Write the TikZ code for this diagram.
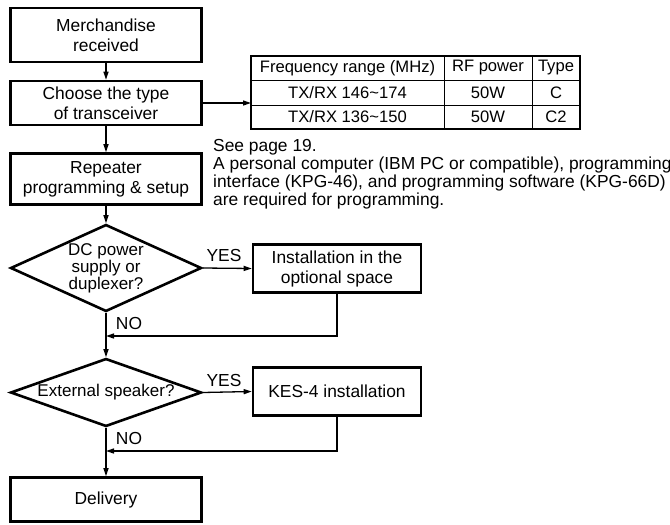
\documentclass[tikz,border=0pt]{standalone}
\usepackage{fontspec}
\setmainfont{Liberation Sans}
\usetikzlibrary{shapes.geometric,arrows.meta}
\tikzset{
  txt/.style={font=\fontsize{17.4}{20}\selectfont, inner sep=0pt, align=center},
  celltxt/.style={font=\fontsize{16.6}{20}\selectfont, inner sep=0pt, align=center},
  stepbox/.style={txt, draw, line width=2.6pt, rectangle, minimum width=191pt},
  decision/.style={draw, line width=2.6pt, shape=diamond, inner sep=0pt, minimum width=191pt},
  conn/.style={line width=1.3pt},
  arr/.style={conn, -{Triangle[length=8pt,width=5pt]}},
  thinrule/.style={line width=0.9pt},
}
\begin{document}
\begin{tikzpicture}[x=1pt,y=-1pt]
\useasboundingbox (0,0) rectangle (670,525);
% main column
\node[stepbox, minimum height=54pt] (b1) at (106,35) {Merchandise\\received};
\node[stepbox, minimum height=44pt] (b2) at (106,103) {Choose the type\\of transceiver};
\node[stepbox, minimum height=51pt] (b3) at (106,179) {Repeater\\programming \& setup};
\node[decision, minimum height=87pt] (d1) at (106,268) {};
\node[txt, font=\fontsize{17}{13.8}\selectfont] (d1t) at (106,268) {DC power\\supply or\\duplexer?};
\node[stepbox, minimum width=168pt, minimum height=48pt] (b4) at (337,268.5) {Installation in the\\optional space};
\node[decision, minimum height=68pt] (d2) at (106,392.5) {};
\node[txt, font=\fontsize{17}{20}\selectfont] (d2t) at (106,392.5) {External speaker?};
\node[stepbox, minimum width=168pt, minimum height=48pt] (b5) at (337,391.5) {KES-4 installation};
\node[stepbox, minimum height=44pt] (b6) at (106,499.5) {Delivery};
% table
\coordinate (tl) at (251,56);
\coordinate (br) at (580,129);
\coordinate (tw) at (251,104);
\draw[thinrule] (251,80) -- (580,80);
\draw[thinrule] (251,105) -- (580,105);
\draw[thinrule] (444,56) -- (444,129);
\draw[thinrule] (532,56) -- (532,129);
\draw[line width=2.6pt] (tl) rectangle (br);
\node[celltxt] (h1) at (347.5,68) {Frequency range (MHz)};
\node[celltxt] (h2) at (488,68) {RF power};
\node[celltxt] (h3) at (556,68) {Type};
\node[celltxt] (r11) at (347.5,92.5) {TX/RX 146\textasciitilde174};
\node[celltxt] (r12) at (488,92.5) {50W};
\node[celltxt] (r13) at (556,92.5) {C};
\node[celltxt] (r21) at (347.5,117) {TX/RX 136\textasciitilde150};
\node[celltxt] (r22) at (488,117) {50W};
\node[celltxt] (r23) at (556,117) {C2};
% note
\node[txt, font=\fontsize{17.4}{18}\selectfont, align=left, anchor=north west] (note) at (213,139)
  {See page 19.\\A personal computer (IBM PC or compatible), programming\\interface (KPG-46), and programming software (KPG-66D)\\are required for programming.};
% connectors
\coordinate (j1) at (106,336);
\coordinate (j2) at (106,451);
\draw[arr] (b1.south) -- (b2.north);
\draw[arr] (b2.south) -- (b3.north);
\draw[arr] (b3.south) -- (d1.north);
\draw[arr] (b2.east) -- (b2.east -| tw);
\draw[arr] (d1.east) -- (b4.west);
\draw[arr] (b4.south) |- (j1);
\draw[arr] (d1.south) -- (d2.north);
\draw[arr] (d2.east) -- (b5.west);
\draw[arr] (b5.south) |- (j2);
\draw[arr] (d2.south) -- (b6.north);
% labels
\node[txt] (y1) at (224,256) {YES};
\node[txt] (n1) at (129,324) {NO};
\node[txt] (y2) at (224,381) {YES};
\node[txt] (n2) at (129,439) {NO};
\end{tikzpicture}
\end{document}
